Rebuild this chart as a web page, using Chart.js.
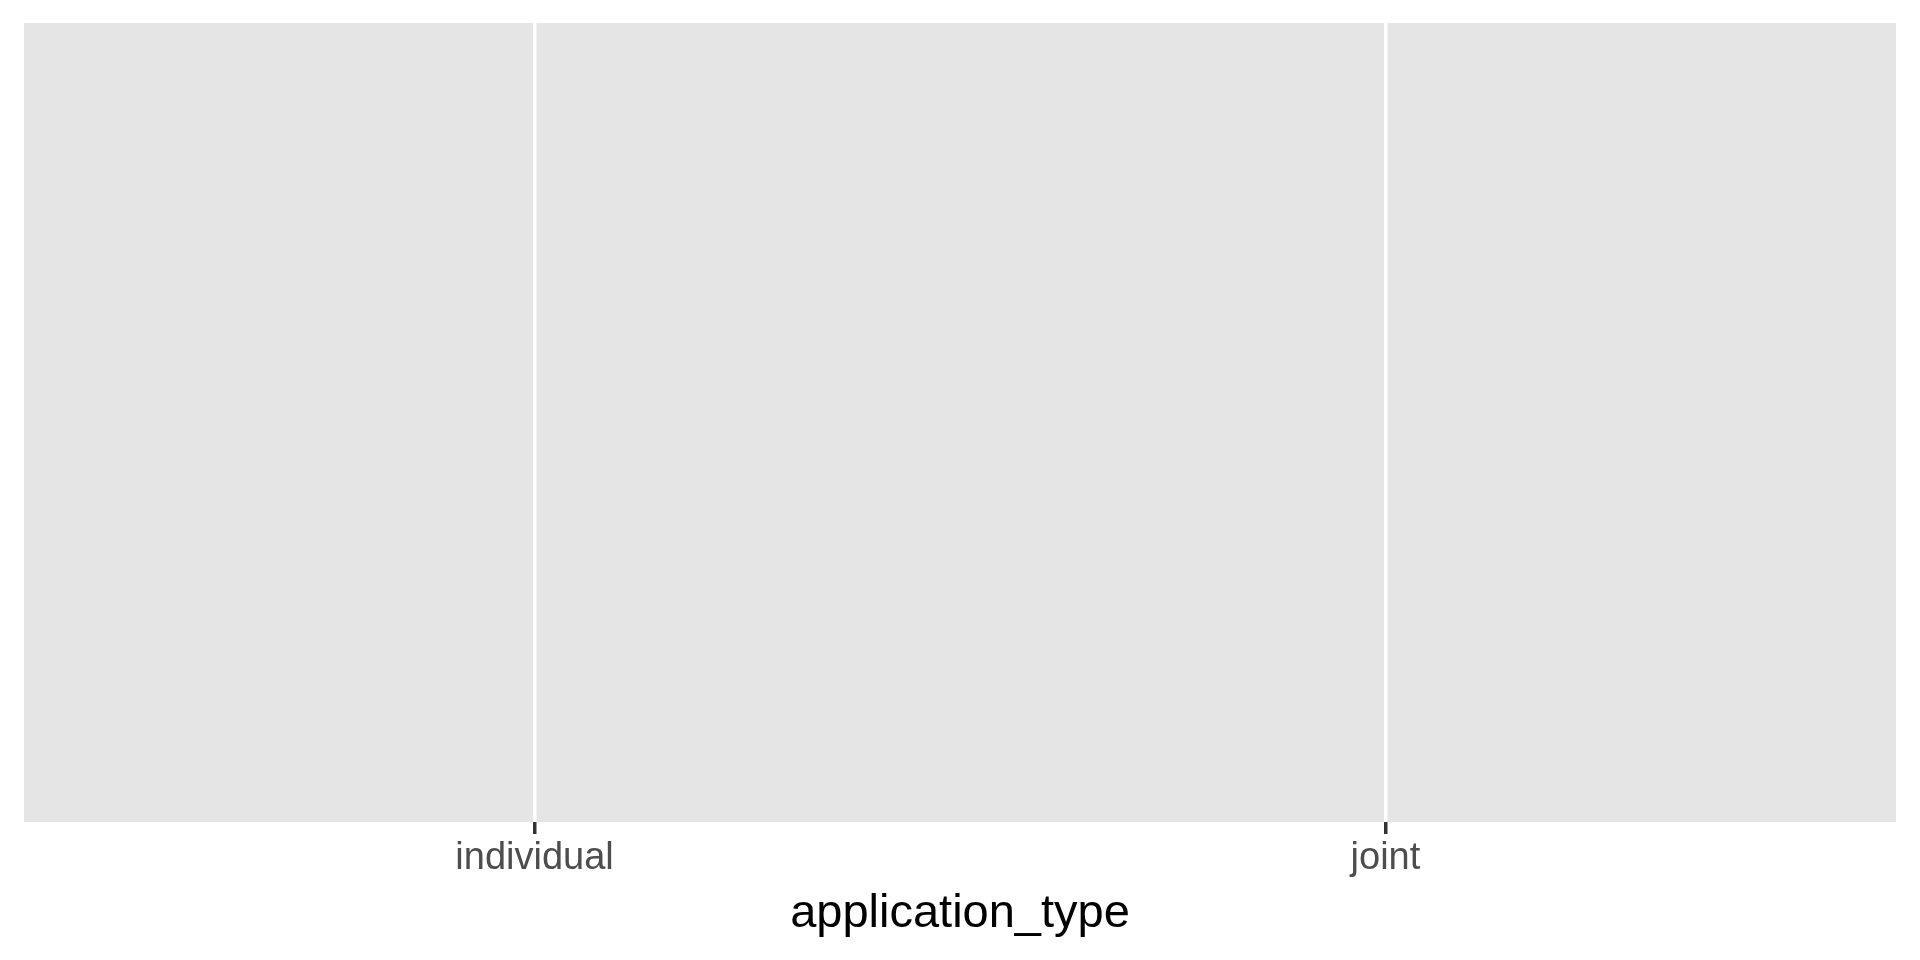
<!DOCTYPE html>
<html>
<head>
<meta charset="utf-8">
<script src="https://cdn.jsdelivr.net/npm/chart.js@4"></script>
<style>
  html, body { margin: 0; padding: 0; background: #ffffff; }
  #wrap { width: 1920px; height: 960px; }
</style>
</head>
<body>
<div id="wrap"><canvas id="myChart" width="1920" height="960"></canvas></div>
<script>
// categories on the x axis (no data marks in this plot)
var categories = ["individual", "joint"];
var tickPositions = [1, 2];
var xTitle = "application_type";

// gray panel behind the plot area
var panelBg = {
  id: "panelBg",
  beforeDraw: function (chart) {
    var a = chart.chartArea, ctx = chart.ctx;
    ctx.save();
    ctx.fillStyle = "#E5E5E5";
    ctx.fillRect(a.left, a.top, a.right - a.left, a.bottom - a.top);
    ctx.restore();
  }
};

var ctx = document.getElementById("myChart");
var chart = new Chart(ctx, {
  type: "scatter",
  data: { datasets: [{ data: [] }] },
  plugins: [panelBg],
  options: {
    responsive: false,
    animation: false,
    layout: { padding: { left: 24, right: 24, top: 23, bottom: 18 } },
    plugins: { legend: { display: false }, tooltip: { enabled: false } },
    scales: {
      x: {
        type: "linear",
        min: 0.4,
        max: 2.6,
        afterBuildTicks: function (axis) {
          axis.ticks = tickPositions.map(function (v) { return { value: v }; });
        },
        border: { display: false },
        grid: { color: "#ffffff", lineWidth: 3.5, tickColor: "#333333", tickWidth: 3.5, tickLength: 12 },
        ticks: {
          callback: function (v) { return categories[tickPositions.indexOf(v)]; },
          color: "#4D4D4D",
          font: { family: "Liberation Sans", size: 38 },
          padding: 2,
          maxRotation: 0
        },
        title: {
          display: true,
          text: xTitle,
          color: "#000000",
          font: { family: "Liberation Sans", size: 47 },
          padding: { top: 2, bottom: 0 }
        }
      },
      y: {
        display: false,
        min: 0,
        max: 1
      }
    }
  }
});
</script>
</body>
</html>
